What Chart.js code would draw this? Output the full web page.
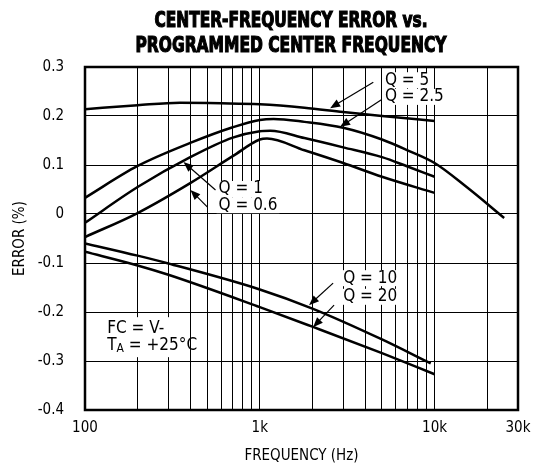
<!DOCTYPE html>
<html>
<head>
<meta charset="utf-8">
<script src="https://cdn.jsdelivr.net/npm/chart.js@4.4.1/dist/chart.umd.min.js"></script>
<style>
  html, body { margin: 0; padding: 0; background: #fff; }
</style>
</head>
<body>
<canvas id="chart" width="540" height="467"></canvas>
<script>
const NARROW = '"Liberation Sans Narrow", "DejaVu Sans Condensed", "Liberation Sans", sans-serif';

const titleLines = ["CENTER-FREQUENCY ERROR vs.", "PROGRAMMED CENTER FREQUENCY"];

// axes
const gridFreqs = [100, 200, 300, 400, 500, 600, 700, 800, 900,
  1000, 2000, 3000, 4000, 5000, 6000, 7000, 8000, 9000, 10000, 20000, 30000];
const xTickValues = [100, 1000, 10000, 30000];
const xTickLabels = ["100", "1k", "10k", "30k"];
const yTickValues = [0.3, 0.2, 0.1, 0, -0.1, -0.2, -0.3, -0.4];
const yTickLabels = ["0.3", "0.2", "0.1", "0", "-0.1", "-0.2", "-0.3", "-0.4"];

// curves (Hz, %)
const q5Freq = [100, 200, 350, 600, 1000, 1800, 3000, 5000, 10000];
const q5Err = [0.214, 0.222, 0.227, 0.226, 0.224, 0.217, 0.208, 0.2, 0.19];

const q25Freq = [100, 200, 400, 700, 1000, 1200, 1800, 3000, 5000, 7000, 10000, 15000, 25000];
const q25Err = [0.033, 0.098, 0.145, 0.177, 0.192, 0.194, 0.188, 0.176, 0.152, 0.13, 0.104, 0.057, -0.008];

const q1Freq = [100, 200, 400, 700, 1000, 1150, 1800, 3000, 5000, 7000, 10000];
const q1Err = [-0.018, 0.055, 0.116, 0.156, 0.169, 0.17, 0.155, 0.136, 0.116, 0.097, 0.076];

const q06Freq = [100, 200, 400, 700, 1000, 1100, 1800, 3000, 5000, 10000];
const q06Err = [-0.047, 0.002, 0.063, 0.118, 0.152, 0.154, 0.13, 0.104, 0.076, 0.043];

const q10Freq = [100, 200, 300, 1000, 2000, 5000, 9500];
const q10Err = [-0.06, -0.085, -0.101, -0.154, -0.193, -0.256, -0.305];

const q20Freq = [100, 200, 300, 1000, 2000, 5000, 10000];
const q20Err = [-0.077, -0.105, -0.124, -0.19, -0.23, -0.284, -0.327];

// callouts: label anchor and arrow, in axis units
const callouts = [
  { text: "Q = 5", at: [5200, 0.273], from: [4460, 0.269], to: [2525, 0.216] },
  { text: "Q = 2.5", at: [5200, 0.239], from: [4960, 0.233], to: [2880, 0.178] },
  { text: "Q = 1", at: [581, 0.051], from: [558, 0.049], to: [366, 0.106] },
  { text: "Q = 0.6", at: [581, 0.018], from: [502, 0.014], to: [401, 0.049] },
  { text: "Q = 10", at: [3000, -0.131], from: [2627, -0.141], to: [1912, -0.186] },
  { text: "Q = 20", at: [3000, -0.169], from: [2660, -0.186], to: [2017, -0.231] },
];
const conditionAt = [134, -0.233];

function toPoints(freqs, errs) {
  return freqs.map((f, i) => ({ x: f, y: errs[i] }));
}

function curve(label, freqs, errs) {
  return {
    label,
    data: toPoints(freqs, errs),
    borderColor: "#000",
    borderWidth: 2.5,
    pointRadius: 0,
    fill: false,
    cubicInterpolationMode: "monotone",
  };
}

const labelFont = `17px ${NARROW}`;

const notesPlugin = {
  id: "notes",
  // white boxes behind labels knock out the grid, like the original
  beforeDatasetsDraw(chart) {
    const { ctx, scales: { x, y } } = chart;
    ctx.save();
    ctx.font = labelFont;
    ctx.fillStyle = "#fff";
    callouts.forEach((c) => {
      const w = ctx.measureText(c.text).width;
      ctx.fillRect(x.getPixelForValue(c.at[0]) - 2, y.getPixelForValue(c.at[1]) - 8, w + 4, 16);
    });
    const cx = x.getPixelForValue(conditionAt[0]);
    const cy = y.getPixelForValue(conditionAt[1]);
    ctx.fillRect(cx - 3, cy - 11, 80, 40);
    ctx.restore();
  },
  afterDatasetsDraw(chart) {
    const { ctx, scales: { x, y } } = chart;
    ctx.save();
    ctx.fillStyle = "#000";
    ctx.strokeStyle = "#000";
    ctx.font = labelFont;
    ctx.textAlign = "left";
    ctx.textBaseline = "middle";
    callouts.forEach((c) => {
      ctx.fillText(c.text, x.getPixelForValue(c.at[0]), y.getPixelForValue(c.at[1]));
      const x0 = x.getPixelForValue(c.from[0]);
      const y0 = y.getPixelForValue(c.from[1]);
      const x1 = x.getPixelForValue(c.to[0]);
      const y1 = y.getPixelForValue(c.to[1]);
      const ang = Math.atan2(y1 - y0, x1 - x0);
      ctx.lineWidth = 1.2;
      ctx.beginPath();
      ctx.moveTo(x0, y0);
      ctx.lineTo(x1 - 8 * Math.cos(ang), y1 - 8 * Math.sin(ang));
      ctx.stroke();
      ctx.beginPath();
      ctx.moveTo(x1, y1);
      ctx.lineTo(x1 - 10 * Math.cos(ang) + 4 * Math.sin(ang), y1 - 10 * Math.sin(ang) - 4 * Math.cos(ang));
      ctx.lineTo(x1 - 10 * Math.cos(ang) - 4 * Math.sin(ang), y1 - 10 * Math.sin(ang) + 4 * Math.cos(ang));
      ctx.closePath();
      ctx.fill();
    });

    // test conditions
    const cx = x.getPixelForValue(conditionAt[0]);
    const cy = y.getPixelForValue(conditionAt[1]);
    ctx.fillText("FC = V-", cx, cy);
    ctx.fillText("T", cx, cy + 17);
    const tw = ctx.measureText("T").width;
    ctx.font = `12px ${NARROW}`;
    ctx.fillText("A", cx + tw, cy + 21);
    const aw = ctx.measureText("A").width;
    ctx.font = labelFont;
    ctx.fillText(" = +25°C", cx + tw + aw, cy + 17);
    ctx.restore();
  },
  afterDraw(chart) {
    const { ctx, chartArea: a } = chart;
    ctx.save();
    ctx.strokeStyle = "#000";
    ctx.lineWidth = 2.5;
    ctx.strokeRect(a.left, a.top, a.right - a.left, a.bottom - a.top);

    ctx.fillStyle = "#000";
    ctx.textAlign = "center";
    ctx.textBaseline = "middle";
    ctx.font = `bold 22px ${NARROW}`;
    const widths = [273, 311];
    titleLines.forEach((line, i) => {
      const w = ctx.measureText(line).width;
      ctx.save();
      ctx.translate(291, 21 + i * 25);
      ctx.scale(widths[i] / w, 1);
      ctx.lineWidth = 1.2;
      ctx.fillText(line, 0, 0);
      ctx.strokeText(line, 0, 0);
      ctx.restore();
    });
    ctx.restore();
  },
};

const tickFont = { family: NARROW, size: 15 };

new Chart(document.getElementById("chart"), {
  type: "line",
  data: {
    datasets: [
      curve("Q = 5", q5Freq, q5Err),
      curve("Q = 2.5", q25Freq, q25Err),
      curve("Q = 1", q1Freq, q1Err),
      curve("Q = 0.6", q06Freq, q06Err),
      curve("Q = 10", q10Freq, q10Err),
      curve("Q = 20", q20Freq, q20Err),
    ],
  },
  options: {
    responsive: false,
    animation: false,
    layout: { padding: { top: 67, right: 22, bottom: 0, left: 0 } },
    plugins: {
      legend: { display: false },
      tooltip: { enabled: false },
    },
    scales: {
      x: {
        type: "logarithmic",
        min: 100,
        max: 30000,
        afterBuildTicks: (scale) => {
          scale.ticks = gridFreqs.map((v) => ({ value: v }));
        },
        afterFit: (scale) => {
          scale.height = 57;
        },
        grid: { color: "#000", lineWidth: 1, drawTicks: false },
        border: { display: false },
        ticks: {
          autoSkip: false,
          maxRotation: 0,
          padding: 9,
          color: "#000",
          font: tickFont,
          callback: (v) => {
            const i = xTickValues.indexOf(v);
            return i >= 0 ? xTickLabels[i] : "";
          },
        },
        title: {
          display: true,
          text: "FREQUENCY (Hz)",
          color: "#000",
          font: { family: NARROW, size: 15 },
          padding: { top: 0, bottom: 2 },
        },
      },
      y: {
        min: -0.4,
        max: 0.3,
        afterBuildTicks: (scale) => {
          scale.ticks = yTickValues.map((v) => ({ value: v }));
        },
        afterFit: (scale) => {
          scale.width = 85;
        },
        grid: { color: "#000", lineWidth: 1, drawTicks: false },
        border: { display: false },
        ticks: {
          padding: 21,
          color: "#000",
          font: tickFont,
          callback: (v) => {
            const i = yTickValues.findIndex((t) => Math.abs(t - v) < 1e-9);
            return i >= 0 ? yTickLabels[i] : "";
          },
        },
        title: {
          display: true,
          text: "ERROR (%)",
          color: "#000",
          font: { family: NARROW, size: 15 },
          padding: { top: 11, bottom: 0 },
        },
      },
    },
  },
  plugins: [notesPlugin],
});
</script>
</body>
</html>
